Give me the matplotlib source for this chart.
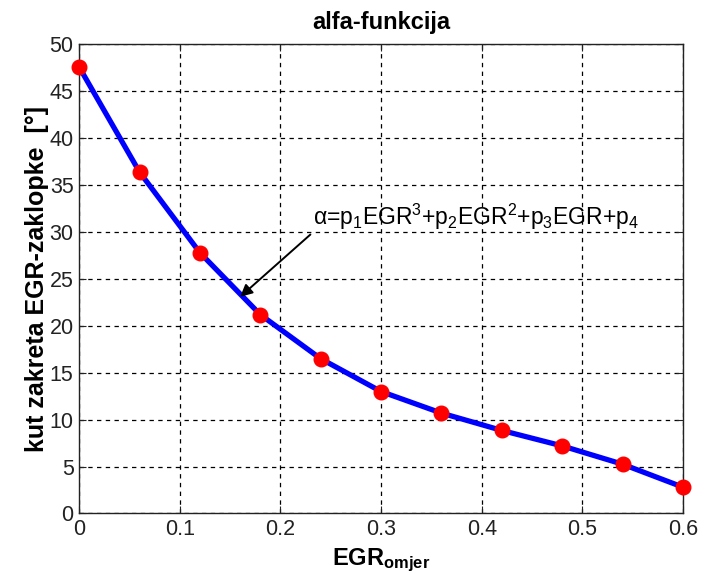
import numpy as np
import matplotlib
matplotlib.use("Agg")
import matplotlib.pyplot as plt

# EGR ratio vs. EGR valve angle
egr = [0.0, 0.06, 0.12, 0.18, 0.24, 0.30, 0.36, 0.42, 0.48, 0.54, 0.60]
alpha = [47.6, 36.4, 27.8, 21.2, 16.5, 13.0, 10.7, 8.85, 7.2, 5.25, 2.8]
x_ticks = [0, 0.1, 0.2, 0.3, 0.4, 0.5, 0.6]
x_tick_labels = ["0", "0.1", "0.2", "0.3", "0.4", "0.5", "0.6"]
y_ticks = list(range(0, 51, 5))

plt.rcParams['font.family'] = ['Liberation Sans', 'DejaVu Sans']
plt.rcParams['mathtext.fontset'] = 'custom'
plt.rcParams['mathtext.rm'] = 'Liberation Sans'
plt.rcParams['mathtext.it'] = 'Liberation Sans:italic'
plt.rcParams['mathtext.bf'] = 'Liberation Sans:bold'

fig = plt.figure(figsize=(7.13, 5.8), dpi=100)
ax = fig.add_axes([0.111, 0.1147, 0.847, 0.8086])

ax.plot(egr, alpha, color="blue", linewidth=3.8, zorder=3)
ax.plot(egr, alpha, linestyle="none", marker="o", markersize=10.5,
        color="red", markeredgecolor="red", zorder=4, clip_on=False)

ax.set_xlim(0, 0.6)
ax.set_ylim(0, 50)
ax.set_xticks(x_ticks)
ax.set_xticklabels(x_tick_labels)
ax.set_yticks(y_ticks)
ax.tick_params(direction="in", top=True, right=True, labelsize=15.5,
               length=5, width=0.8, colors="#222222", pad=4)
ax.grid(True, color="black", linestyle=(0, (3.5, 3.5)), linewidth=0.9)
for s in ax.spines.values():
    s.set_linewidth(1.0)
    s.set_color("#222222")

ax.set_title("alfa-funkcija", fontsize=17, fontweight="bold", pad=11)
ax.set_ylabel("kut zakreta EGR-zaklopke  [°]", fontsize=18, fontweight="bold", labelpad=0)
ax.set_xlabel(r"EGR$_{\mathbf{omjer}}$", fontsize=17, fontweight="bold", labelpad=5)

ax.annotate("α=p$_1$EGR$^3$+p$_2$EGR$^2$+p$_3$EGR+p$_4$",
            xy=(0.16, 23.1), xytext=(0.2325, 30.0),
            fontsize=16.5, va="bottom", ha="left",
            arrowprops=dict(arrowstyle="-|>", color="black", lw=1.4,
                            mutation_scale=18, shrinkA=0, shrinkB=0,
                            relpos=(0, 0)))

fig.savefig("out.png", dpi=100)
